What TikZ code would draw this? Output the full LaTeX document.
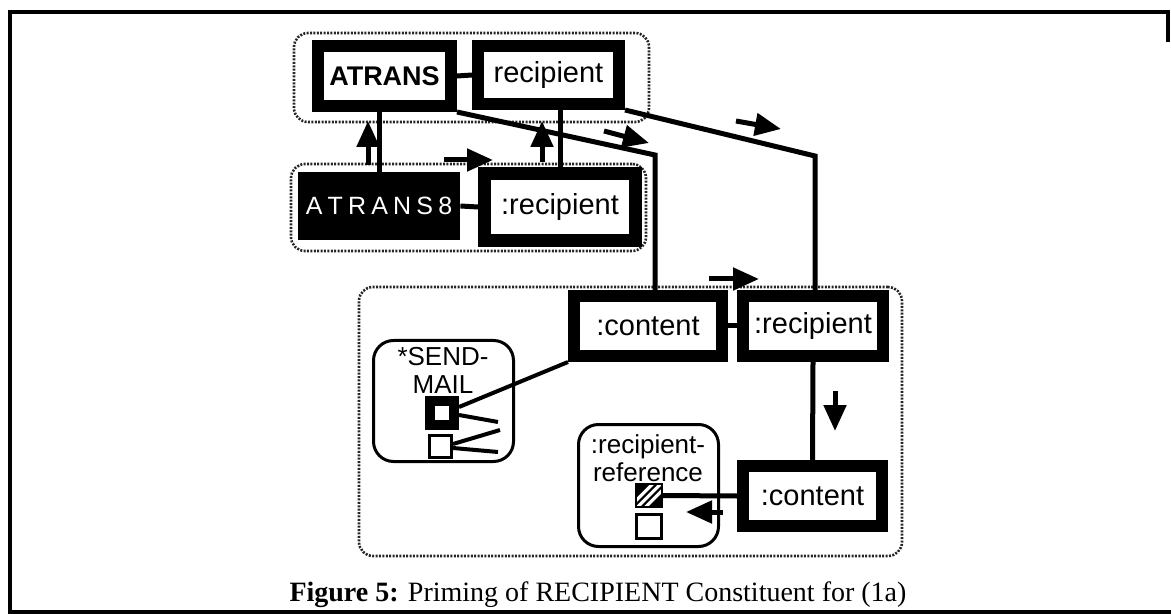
\documentclass[tikz,border=0pt]{standalone}
\usepackage{fontspec}
\setmainfont{Liberation Serif}
\setsansfont{Liberation Sans}
\usetikzlibrary{arrows.meta}

\newcommand\tracksp{\kern2.6pt}

\begin{document}
\begin{tikzpicture}[
	x=0.5pt, y=-0.5pt,
	box/.style={draw, line width=6pt, fill=white, inner sep=0pt, font=\sffamily\fontsize{14.5}{16}\selectfont},
	darkbox/.style={fill=black, inner sep=0pt, text=white, font=\sffamily\fontsize{12.5}{14}\selectfont},
	group/.style={draw=black!85, line width=1.3pt, dash pattern=on 1pt off 0.7pt, rounded corners=7pt},
	roundbox/.style={draw, line width=1.5pt, rounded corners=10pt},
	slot/.style={draw, line width=1.5pt, fill=white, inner sep=0pt},
	lbl/.style={align=center, anchor=north, inner sep=0pt, font=\sffamily\fontsize{13}{14}\selectfont},
	link/.style={line width=2.5pt},
	flow/.style={line width=2.5pt, -{Triangle[length=13pt,width=11pt]}}
	]
	\useasboundingbox (0,0) rectangle (1171,614);
	
	%-----------------------
	% Page frame
	%-----------------------
	\draw[line width=2pt] (1168,42) -- (1168,12) -- (10,12) -- (10,612) -- (1171,612);
	
	%-----------------------
	% Dotted groups
	%-----------------------
	\node[group, minimum width=177.5pt, minimum height=44.5pt] (grp1) at (471.5,77.5) {};
	\node[group, minimum width=177.5pt, minimum height=43.5pt] (grp2) at (468.5,207.5) {};
	\node[group, minimum width=271.5pt, minimum height=134.5pt] (grp3) at (630.5,421.5) {};
	
	%-----------------------
	% Row 1: ATRANS and its role
	%-----------------------
	\node[box, font=\sffamily\bfseries\fontsize{13.5}{16}\selectfont, minimum width=66.5pt, minimum height=30pt] (ATRANS) at (384.5,76) {ATRANS};
	\node[box, minimum width=70.5pt, minimum height=29pt] (recip) at (548.5,75) {recipient};
	
	%-----------------------
	% Row 2: instance ATRANS8
	%-----------------------
	\node[darkbox, minimum width=81pt, minimum height=34pt] (ATRANS8) at (379,206) {A\tracksp T\tracksp R\tracksp A\tracksp N\tracksp S\tracksp 8};
	\node[box, line width=6.5pt, minimum width=75.5pt, minimum height=33.5pt] (recip2) at (560,207) {:recipient};
	
	%-----------------------
	% Row 3: content / recipient
	%-----------------------
	\node[box, minimum width=74pt, minimum height=30pt] (content1) at (648,326) {:content};
	\node[box, minimum width=70pt, minimum height=30pt] (recip3) at (813,326) {:recipient};
	\node[box, minimum width=69.5pt, minimum height=30pt] (content2) at (812.5,496) {:content};
	
	%-----------------------
	% Rounded frames with slots
	%-----------------------
	\node[roundbox, minimum width=70pt, minimum height=60.5pt] (sendmail) at (443.5,401) {};
	\node[lbl] (sendmail-lbl) at (443,347) {*SEND-\\MAIL};
	\node[slot, line width=5pt, minimum size=12pt] (sm1) at (442,413) {};
	\node[slot, minimum size=11pt] (sm2) at (440.5,446) {};
	
	\node[roundbox, minimum width=70pt, minimum height=61pt] (recipref) at (648.5,485.5) {};
	\node[lbl] (recipref-lbl) at (648,434) {:recipient-\\reference};
	\node[slot, line width=1pt, fill=black, minimum width=13pt, minimum height=11.5pt,
		path picture={
			\foreach \k in {-4,0,4}
				\draw[white, line width=1.6pt] ([xshift=\k pt-9pt, yshift=-9pt]path picture bounding box.center) -- ++(18pt,18pt);
		}] (rr1) at (649,495.5) {};
	\node[slot, minimum width=12.5pt, minimum height=12pt] (rr2) at (649,526.5) {};
	
	%-----------------------
	% Connections
	%-----------------------
	\coordinate (bend1) at (655,155);
	\coordinate (bend2) at (815,156);
	
	\draw[link] (ATRANS.east) -- (recip.west);
	\draw[link] (ATRANS8.east) -- (recip2.west);
	\draw[link] (content1.east) -- (recip3.west);
	\draw[link] (ATRANS8.north) -- (ATRANS8.north |- ATRANS.south);
	\draw[link] (recip2.north) -- (recip2.north |- recip.south);
	\draw[link] (ATRANS.south east) -- (bend1) -- (bend1 |- content1.north);
	\draw[link] (recip.south east) -- (bend2) -- (bend2 |- recip3.north);
	\draw[link] (recip3.south) -- (content2.north);
	\draw[link] (content2.west) -- (rr1.east);
	
	% slot fans
	\coordinate (fan1) at (498,422);
	\coordinate (fan2) at (500,430);
	\coordinate (fan3) at (498,452);
	\draw[link, line width=2pt] ([yshift=3pt]sm1.east) -- (content1.south west);
	\draw[link, line width=2pt] ([yshift=-1pt]sm1.east) -- (fan1);
	\draw[link, line width=2pt] ([yshift=1pt]sm2.east) -- (fan2);
	\draw[link, line width=2pt] ([yshift=-1pt]sm2.east) -- (fan3);
	
	%-----------------------
	% Flow markers
	%-----------------------
	\coordinate (up1-s) at (368,165);    \coordinate (up1-e) at (368,121);
	\coordinate (up2-s) at (542,162);    \coordinate (up2-e) at (542,121);
	\coordinate (rt1-s) at (444,160);    \coordinate (rt1-e) at (493,160);
	\coordinate (dg1-s) at (604,131);    \coordinate (dg1-e) at (649,143);
	\coordinate (dg2-s) at (736,121);    \coordinate (dg2-e) at (781,129);
	\coordinate (rt2-s) at (709,279);    \coordinate (rt2-e) at (759,279);
	\coordinate (dn1-s) at (835,391);    \coordinate (dn1-e) at (835,431);
	\coordinate (lf1-s) at (723,512);    \coordinate (lf1-e) at (686,512);
	
	\draw[flow] (up1-s) -- (up1-e);
	\draw[flow] (up2-s) -- (up2-e);
	\draw[flow] (rt1-s) -- (rt1-e);
	\draw[flow] (dg1-s) -- (dg1-e);
	\draw[flow] (dg2-s) -- (dg2-e);
	\draw[flow] (rt2-s) -- (rt2-e);
	\draw[flow] (dn1-s) -- (dn1-e);
	\draw[flow] (lf1-s) -- (lf1-e);
	
	%-----------------------
	% Caption
	%-----------------------
	\node[font=\fontsize{14}{16}\selectfont, anchor=base, inner sep=0pt] (caption) at (598,601) {\textbf{Figure 5:} Priming of RECIPIENT Constituent for (1a)};
	
\end{tikzpicture}
\end{document}
